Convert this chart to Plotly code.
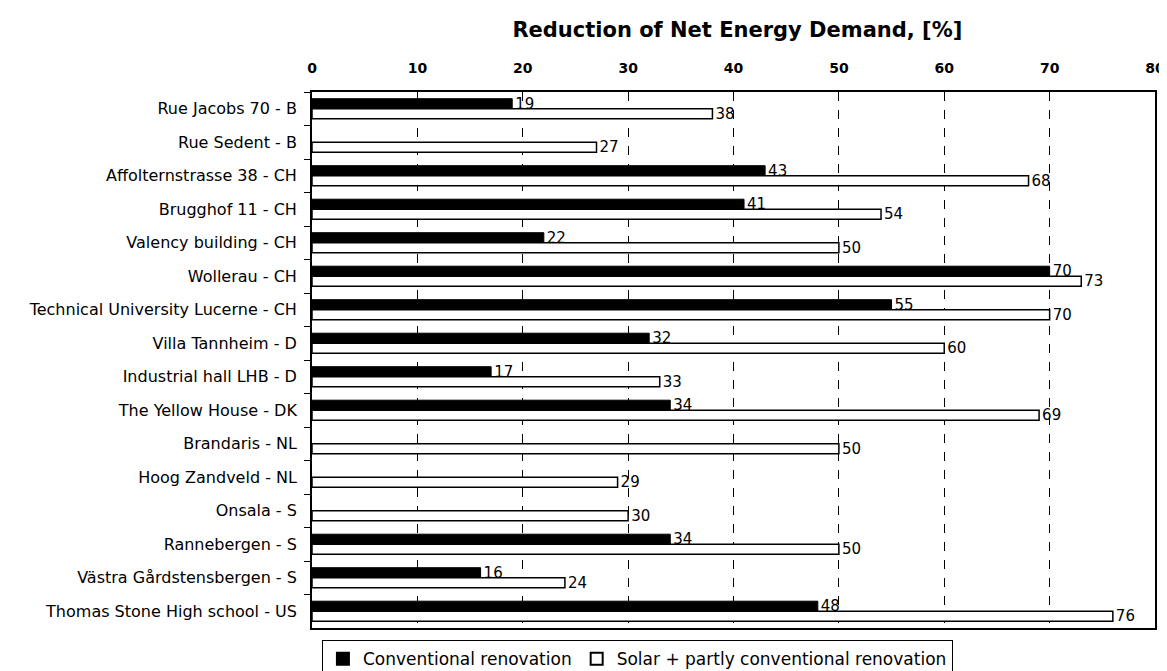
import plotly.graph_objects as go

categories = ["Rue Jacobs 70 - B", "Rue Sedent - B", "Affolternstrasse 38 - CH", "Brugghof 11 - CH",
              "Valency building - CH", "Wollerau - CH", "Technical University Lucerne - CH",
              "Villa Tannheim - D", "Industrial hall LHB - D", "The Yellow House - DK",
              "Brandaris - NL", "Hoog Zandveld - NL", "Onsala - S", "Rannebergen - S",
              "Västra Gårdstensbergen - S", "Thomas Stone High school - US"]
conventional = [19, None, 43, 41, 22, 70, 55, 32, 17, 34, None, None, None, 34, 16, 48]
solar = [38, 27, 68, 54, 50, 73, 70, 60, 33, 69, 50, 29, 30, 50, 24, 76]
x_ticks = [0, 10, 20, 30, 40, 50, 60, 70, 80]

font = "DejaVu Sans, Verdana, sans-serif"

fig = go.Figure()
fig.add_trace(go.Bar(
    y=categories, x=conventional, orientation="h", name="Conventional renovation",
    marker=dict(color="black", line=dict(color="black", width=1)),
    text=[("" if v is None else str(v)) for v in conventional], textposition="outside",
    constraintext="none",
    textfont=dict(size=15, color="black", family=font), cliponaxis=False))
fig.add_trace(go.Bar(
    y=categories, x=solar, orientation="h", name="Solar + partly conventional renovation",
    marker=dict(color="white", line=dict(color="black", width=1.5)),
    text=[str(v) for v in solar], textposition="outside",
    constraintext="none",
    textfont=dict(size=15, color="black", family=font), cliponaxis=False))

fig.update_layout(
    width=1167, height=671,
    margin=dict(l=304, r=20, t=84, b=51, autoexpand=False),
    paper_bgcolor="white", plot_bgcolor="white",
    barmode="group", bargap=0.4, bargroupgap=0.0,
    font=dict(family=font, color="black"),
    title=dict(text="<b>Reduction of Net Energy Demand, [%]</b>", x=0.625, xanchor="center",
               xref="container", yref="container", y=0.968, yanchor="middle",
               font=dict(size=21, family=font)),
    xaxis=dict(side="top", range=[0, 80], tickvals=x_ticks,
               ticktext=["<b>%d</b>" % t for t in x_ticks],
               showgrid=True, gridcolor="black", griddash="dash", gridwidth=1,
               showline=True, linecolor="black", linewidth=1.5, mirror=True,
               ticks="inside", ticklen=6, tickcolor="black", ticklabelstandoff=12,
               tickfont=dict(size=14, family=font), zeroline=False, fixedrange=True),
    yaxis=dict(autorange="reversed", type="category", tickson="boundaries",
               ticks="outside", ticklen=6, tickcolor="black",
               showline=True, linecolor="black", linewidth=1.5, mirror=True,
               showgrid=False, tickfont=dict(size=16, family=font), ticksuffix="  "),
    legend=dict(orientation="h", xref="container", yref="container",
                x=0.269, xanchor="left", y=0.058, yanchor="top",
                bordercolor="black", borderwidth=1, bgcolor="white",
                font=dict(size=17, family=font), itemsizing="constant",
                traceorder="normal"),
)
fig.write_html("out.html")
